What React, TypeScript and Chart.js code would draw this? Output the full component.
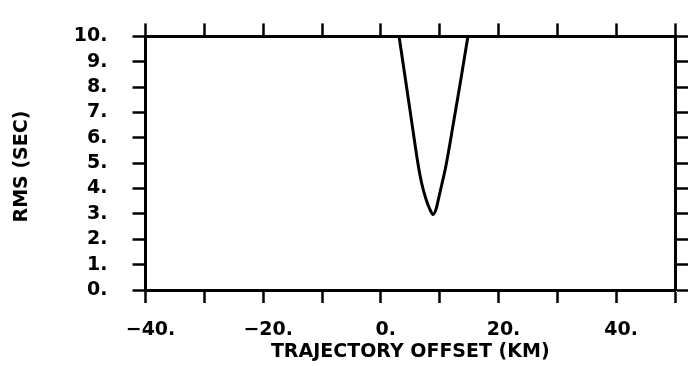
import React, { useEffect, useRef } from "react";
import { Chart, registerables } from "chart.js";

Chart.register(...registerables);

// Trajectory offset (km) and RMS (sec)
const offsetKm = [3.1, 4.2, 5.27, 6.3, 6.95, 7.67, 8.3, 8.9, 9.4, 9.8, 10.4, 11.0, 12.4, 13.6, 14.8];
const rmsSec = [10, 8.28, 6.6, 5.0, 4.2, 3.59, 3.2, 2.98, 3.2, 3.59, 4.2, 4.82, 6.66, 8.3, 10];

const xMin = -40;
const xMax = 50;
const xStep = 10;
const xLabelValues = [-40, -20, 0, 20, 40];
const yMin = 0;
const yMax = 10;
const yStep = 1;

const xTitle = "TRAJECTORY OFFSET (KM)";
const yTitle = "RMS (SEC)\u00A0";

const FONT = { family: "'DejaVu Sans', sans-serif", size: 19, weight: "bold" as const };

const fmt = (v: number) => (v < 0 ? "\u2212" : "") + Math.abs(v) + ".";

export default function App() {
  const ref = useRef<HTMLCanvasElement | null>(null);

  useEffect(() => {
    if (!ref.current) return;
    const grid = {
      drawOnChartArea: false,
      drawTicks: true,
      tickLength: 13,
      tickWidth: 2.5,
      tickColor: "#000",
    };
    const border = { display: true, color: "#000", width: 3 };
    const chart = new Chart(ref.current, {
      type: "line",
      data: {
        datasets: [
          {
            data: offsetKm.map((x, i) => ({ x, y: rmsSec[i] })),
            borderColor: "#000",
            borderWidth: 3,
            pointRadius: 0,
            fill: false,
            cubicInterpolationMode: "monotone",
            xAxisID: "x",
            yAxisID: "y",
          },
        ],
      },
      options: {
        animation: false,
        responsive: true,
        maintainAspectRatio: false,
        layout: { padding: 0 },
        plugins: { legend: { display: false }, tooltip: { enabled: false } },
        scales: {
          x: {
            type: "linear",
            position: "bottom",
            min: xMin,
            max: xMax,
            grid,
            border,
            ticks: {
              stepSize: xStep,
              autoSkip: false,
              maxRotation: 0,
              padding: 16,
              labelOffset: 5,
              color: "#000",
              font: FONT,
              callback: (v: any) => (xLabelValues.includes(Number(v)) ? fmt(Number(v)) : ""),
            },
            title: {
              display: true,
              text: xTitle,
              color: "#000",
              font: FONT,
              padding: { top: 0, bottom: 3 },
            },
            afterFit: (s: any) => {
              s.height = 76;
            },
          },
          x2: {
            type: "linear",
            axis: "x",
            position: "top",
            min: xMin,
            max: xMax,
            grid,
            border,
            ticks: { stepSize: xStep, display: false, autoSkip: false },
            afterFit: (s: any) => {
              s.height = 20;
            },
          },
          y: {
            type: "linear",
            position: "left",
            min: yMin,
            max: yMax,
            grid,
            border,
            ticks: {
              stepSize: yStep,
              autoSkip: false,
              padding: 25,
              color: "#000",
              font: FONT,
              callback: (v: any) => fmt(Number(v)),
            },
            title: {
              display: true,
              text: yTitle,
              color: "#000",
              font: FONT,
              padding: { top: 11, bottom: 0 },
            },
            afterFit: (s: any) => {
              s.width = 145.5;
            },
          },
          y2: {
            type: "linear",
            axis: "y",
            position: "right",
            min: yMin,
            max: yMax,
            grid,
            border,
            ticks: { stepSize: yStep, display: false, autoSkip: false },
            afterFit: (s: any) => {
              s.width = 14;
            },
          },
        },
      } as any,
    });
    return () => chart.destroy();
  }, []);

  return (
    <div style={{ position: "fixed", left: 0, top: 0, width: 691, height: 366, background: "#fff" }}>
      <canvas ref={ref} />
    </div>
  );
}
